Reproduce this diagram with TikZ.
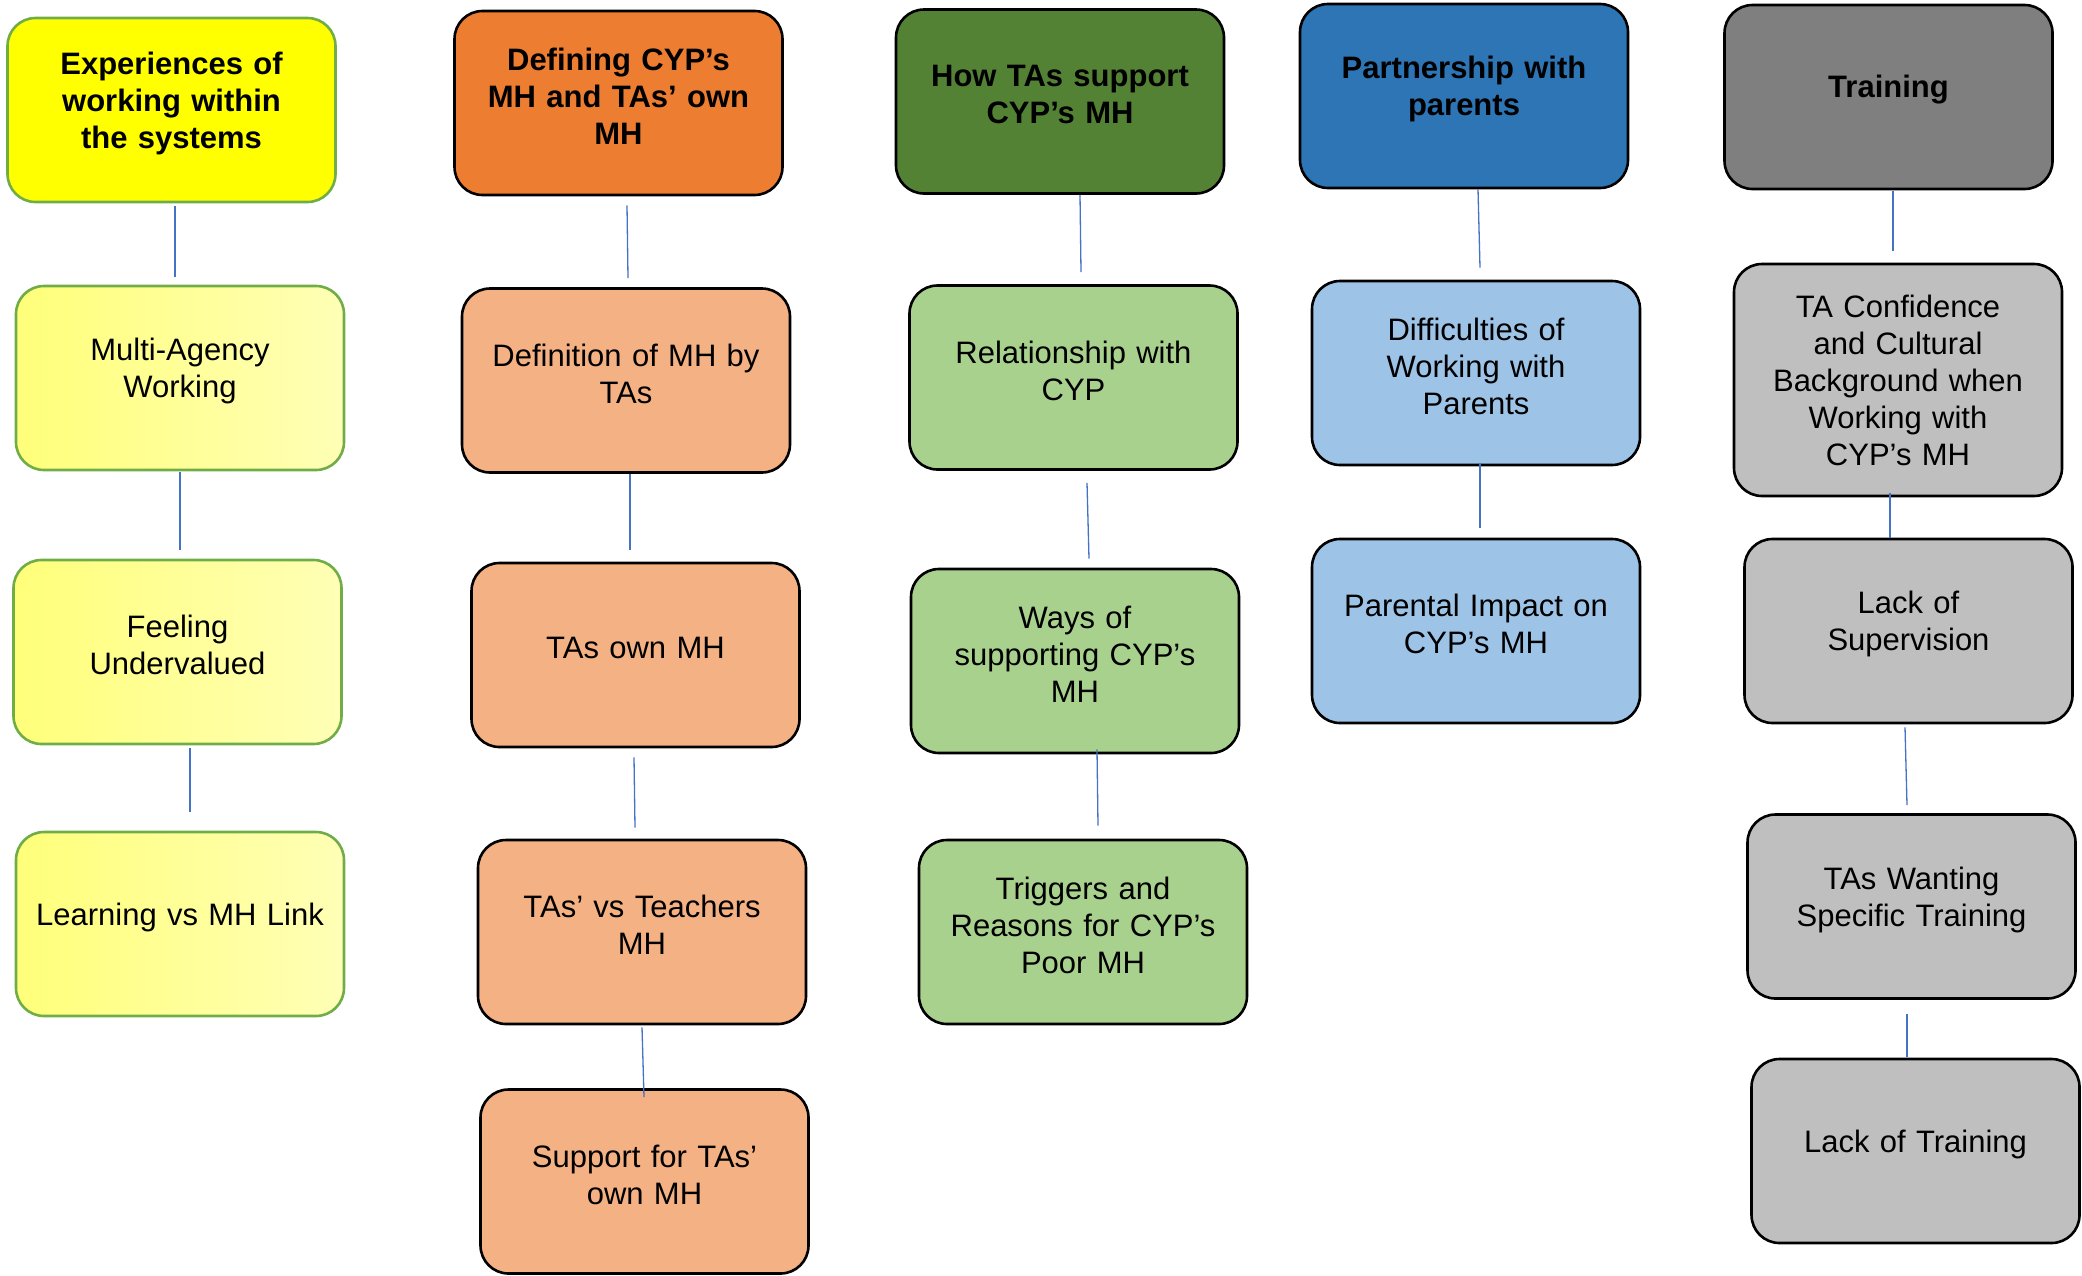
\documentclass[tikz,border=0pt]{standalone}
\usepackage{fontspec}
\setmainfont{Liberation Sans}
\definecolor{ylHead}{HTML}{FFFF00}
\definecolor{ylA}{HTML}{FFFF7A}
\definecolor{ylB}{HTML}{FFFFB6}
\definecolor{ylEdge}{HTML}{70AD47}
\definecolor{orHead}{HTML}{ED7D31}
\definecolor{orSub}{HTML}{F4B183}
\definecolor{grHead}{HTML}{548235}
\definecolor{grSub}{HTML}{A9D18E}
\definecolor{blHead}{HTML}{2E75B6}
\definecolor{blSub}{HTML}{9DC3E6}
\definecolor{gyHead}{HTML}{7F7F7F}
\definecolor{gySub}{HTML}{BFBFBF}
\definecolor{linkBlue}{HTML}{4472C4}
% extra space under the text so it sits a little above the box centre
\newcommand{\liftamt}{14pt}
\newcommand{\liftpad}{\endgraf\vspace*{\liftamt}}
\begin{document}
\begin{tikzpicture}[x=1pt,y=-1pt,
  lift/.code={\def\liftamt{#1}},
  box/.style={draw=black, line width=2.6pt, rounded corners=28pt,
    minimum width=328pt, minimum height=184pt, inner sep=0pt,
    text width=326pt, align=center,
    font=\fontsize{31}{37}\selectfont,
    lift=14pt, execute at end node={\liftpad}},
  head/.style={box, font=\fontsize{31}{37}\selectfont\bfseries},
  ylhead/.style={head, fill=ylHead, draw=ylEdge},
  ylsub/.style={box, left color=ylA, right color=ylB, draw=ylEdge},
  orhead/.style={head, fill=orHead},
  orsub/.style={box, fill=orSub},
  grhead/.style={head, fill=grHead},
  grsub/.style={box, fill=grSub},
  blhead/.style={head, fill=blHead},
  blsub/.style={box, fill=blSub},
  gyhead/.style={head, fill=gyHead},
  gysub/.style={box, fill=gySub},
  link/.style={draw=linkBlue, line width=1.3pt}
]
\useasboundingbox (0,0) rectangle (2082,1275);

% Column 1: experiences of working within the systems
\node[ylhead] (h1) at (171.5,110) {Experiences of\\working within\\the systems};
\node[ylsub] (a1) at (180,378) {Multi-Agency\\Working};
\node[ylsub] (a2) at (177.5,652) {Feeling\\Undervalued};
\node[ylsub] (a3) at (180,924) {Learning vs MH Link};

% Column 2: defining mental health
\node[orhead] (h2) at (618.5,103) {Defining CYP’s\\MH and TAs’ own\\MH};
\node[orsub] (b1) at (626,380.5) {Definition of MH by\\TAs};
\node[orsub] (b2) at (635.5,655) {TAs own MH};
\node[orsub] (b3) at (642,932) {TAs’ vs Teachers\\MH};
\node[orsub] (b4) at (644.5,1181.5) {Support for TAs’\\own MH};

% Column 3: how TAs support CYP's MH
\node[grhead] (h3) at (1060,101.5) {How TAs support\\CYP’s MH};
\node[grsub] (c1) at (1073.5,377.5) {Relationship with\\CYP};
\node[grsub] (c2) at (1075,661) {Ways of\\supporting CYP’s\\MH};
\node[grsub] (c3) at (1083,932) {Triggers and\\Reasons for CYP’s\\Poor MH};

% Column 4: partnership with parents
\node[blhead] (h4) at (1464,96) {Partnership with\\parents};
\node[blsub] (d1) at (1476,373) {Difficulties of\\Working with\\Parents};
\node[blsub] (d2) at (1476,631) {Parental Impact on\\CYP’s MH};

% Column 5: training
\node[gyhead] (h5) at (1888.5,97) {Training};
\node[gysub, minimum height=232pt, lift=0pt] (e1) at (1898,380)
  {TA Confidence\\and Cultural\\Background when\\Working with\\CYP’s MH};
\node[gysub] (e2) at (1908.5,631) {Lack of\\Supervision};
\node[gysub] (e3) at (1911.5,906.5) {TAs Wanting\\Specific Training};
\node[gysub] (e4) at (1915.5,1151) {Lack of Training};

% Connectors
\draw[link] ([shift={(3.5,3)}]h1.south) -- ([shift={(-5,-8)}]a1.north);
\draw[link] ([shift={(0,1)}]a1.south) -- ([shift={(2.5,-9)}]a2.north);
\draw[link] ([shift={(12.5,3)}]a2.south) -- ([shift={(10,-19)}]a3.north);

\draw[link] ([shift={(8.5,9)}]h2.south) -- ([shift={(2,-9)}]b1.north);
\draw[link] ([shift={(4,0)}]b1.south) -- ([shift={(-5.5,-12)}]b2.north);
\draw[link] ([shift={(-1.5,9)}]b2.south) -- ([shift={(-7,-11)}]b3.north);
\draw[link] ([shift={(0,2)}]b3.south) -- ([shift={(-0.5,9)}]b4.north);

\draw[link] ([shift={(20,0)}]h3.south) -- ([shift={(7.5,-12)}]c1.north);
\draw[link] ([shift={(13.5,12)}]c1.south) -- ([shift={(14,-9)}]c2.north);
\draw[link] ([shift={(22,-5)}]c2.south) -- ([shift={(15,-13)}]c3.north);

\draw[link] ([shift={(14,0)}]h4.south) -- ([shift={(4,-12)}]d1.north);
\draw[link] ([shift={(4,-3)}]d1.south) -- ([shift={(4,-10)}]d2.north);

\draw[link] ([shift={(4.5,1)}]h5.south) -- ([shift={(-5,-12)}]e1.north);
\draw[link] ([shift={(-8,-4)}]e1.south) -- ([shift={(-18.5,0)}]e2.north);
\draw[link] ([shift={(-3.5,3)}]e2.south) -- ([shift={(-4.5,-8)}]e3.north);
\draw[link] ([shift={(-4.5,14)}]e3.south) -- ([shift={(-8.5,-1)}]e4.north);
\end{tikzpicture}
\end{document}
